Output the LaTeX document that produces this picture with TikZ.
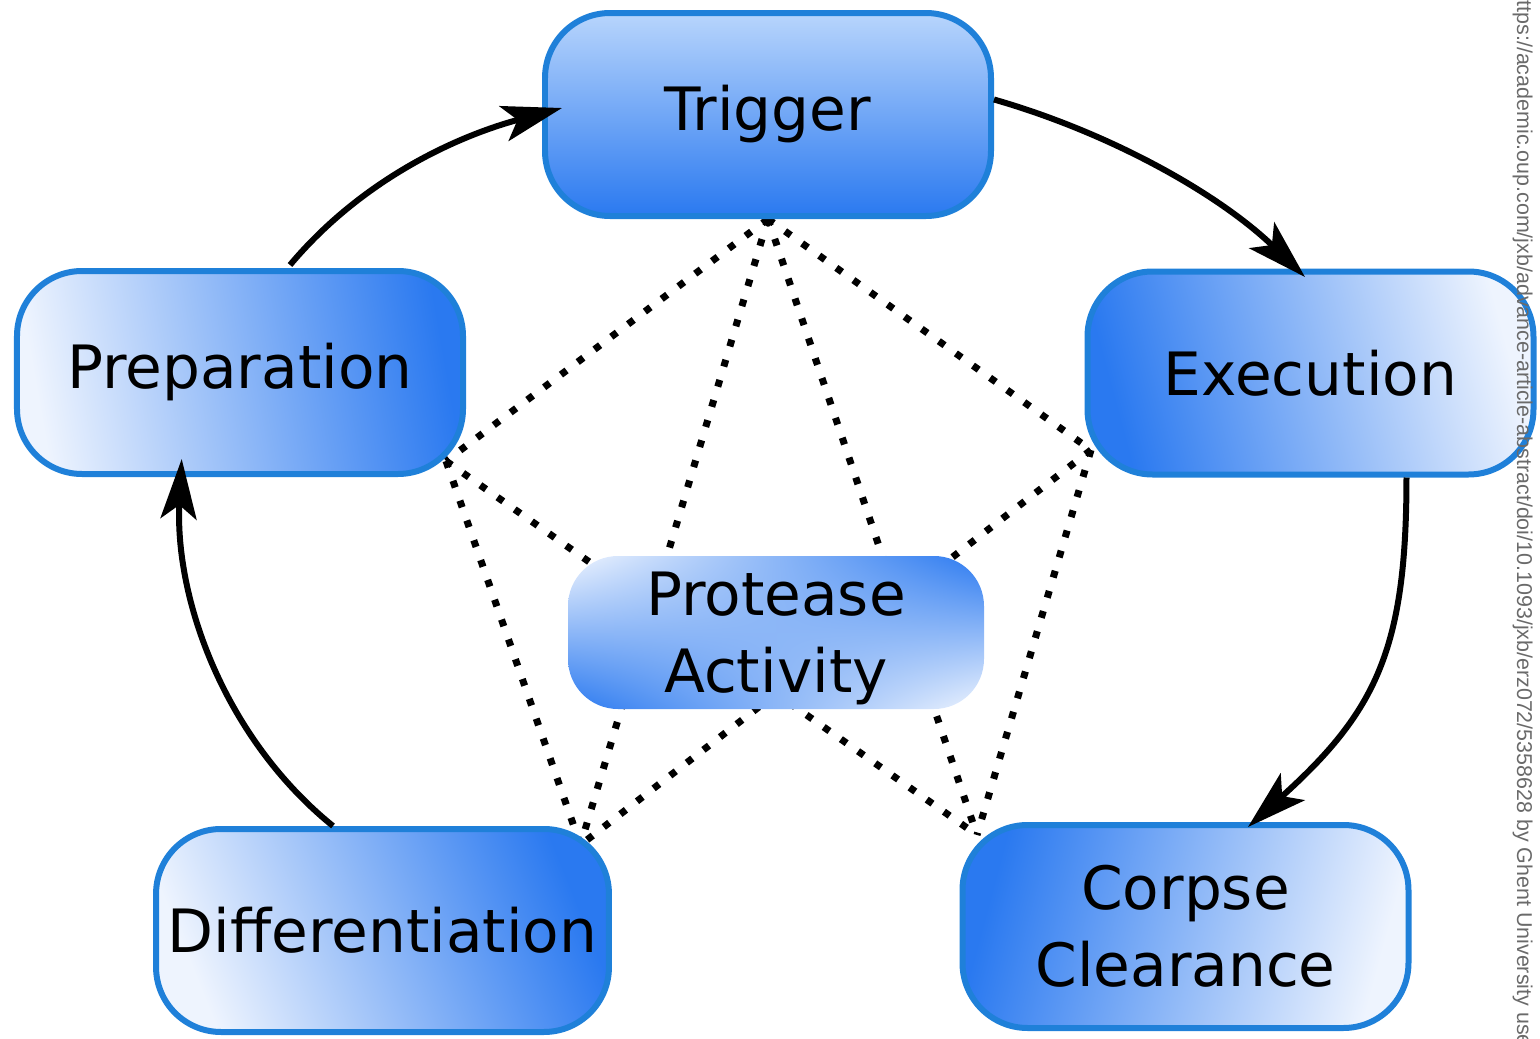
\documentclass[tikz,border=0pt]{standalone}
\usepackage{fontspec}
\setmainfont{DejaVu Sans}
\newfontfamily\urlfont{Liberation Sans}
\usetikzlibrary{arrows.meta,backgrounds,shadings}

\definecolor{boxline}{HTML}{1F80D9}
\definecolor{boxlight}{HTML}{EEF4FE}
\definecolor{boxblue}{HTML}{2A79F0}
\definecolor{trigtop}{HTML}{B8D5FC}
\definecolor{urlgray}{HTML}{6A6A6A}

\begin{document}
\begin{tikzpicture}[
    stage/.style={draw=boxline, line width=0.06cm, rounded corners=0.65cm,
        minimum width=4.46cm, minimum height=2.03cm, align=center,
        font=\fontsize{17}{22}\selectfont},
    cycle/.style={line width=0.06cm,
        -{Stealth[length=6mm,width=3.6mm,inset=1.4mm]}},
    link/.style={line width=0.07cm, dash pattern=on 0.07cm off 0.14cm}
]

    \useasboundingbox (0,0) rectangle (15.4,10.38);
    \clip (0,0) rectangle (15.4,10.38);

    % the five stages
    \node[stage, top color=trigtop, bottom color=boxblue] (trig)
        at (7.68,9.235) {Trigger};
    \node[stage, left color=boxlight, right color=boxblue, shading angle=100]
        (prep) at (2.40,6.655) {Preparation};
    \node[stage, left color=boxblue, right color=boxlight, shading angle=105]
        (exec) at (13.105,6.65) {Execution};
    \node[stage, left color=boxlight, right color=boxblue, shading angle=112]
        (diff) at (3.825,1.075) {Differentiation};
    \node[stage, left color=boxblue, right color=boxlight, shading angle=75]
        (corp) at (11.855,1.115) {Corpse\\Clearance};

    % centre box
    \node[shade, shading=bilinear interpolation, upper left=boxlight,
        upper right=boxblue, lower left=boxblue, lower right=boxlight,
        rounded corners=0.5cm, minimum width=4.16cm, minimum height=1.53cm,
        align=center, text depth=0pt, font=\fontsize{17}{22}\selectfont]
        (prot) at (7.76,4.055) {Protease\\Activity};

    % meeting points of the dotted links
    \coordinate (pT) at (trig.south);
    \coordinate (pP) at ([xshift=-2mm,yshift=1.6mm]prep.south east);
    \coordinate (pE) at ([xshift=0.65mm,yshift=2.75mm]exec.south west);
    \coordinate (pD) at ([xshift=-3.15mm,yshift=-1.9mm]diff.north east);
    \coordinate (pC) at ([xshift=1.75mm,yshift=-1.3mm]corp.north west);

    \begin{scope}[on background layer]
        \draw[link] (pT) -- (pP);
        \draw[link] (pT) -- (pD);
        \draw[link] (pT) -- (pC);
        \draw[link] (pT) -- (pE);
        \draw[link] (pP) -- (pC);
        \draw[link] (pP) -- (pD);
        \draw[link] (pE) -- (pD);
        \draw[link] (pE) -- (pC);
    \end{scope}

    % Connect the cycle
    \draw[cycle] ([xshift=5mm,yshift=0.3mm]prep.north) to[out=50, in=195, looseness=0.9]
        ([xshift=2mm,yshift=0.65mm]trig.west);
    \draw[cycle] ([yshift=1.5mm]trig.east) to[out=-16, in=136, looseness=0.86]
        ([xshift=-0.55mm,yshift=-0.85mm]exec.north);
    \draw[cycle] ([xshift=9.6mm]exec.south) to[out=-90, in=42, looseness=1.15]
        ([xshift=6.25mm,yshift=-0.5mm]corp.north);
    \draw[cycle] ([xshift=-4.95mm]diff.north) to[out=141, in=-93, looseness=0.9]
        ([xshift=-5.83mm,yshift=1.8mm]prep.south);

    \node[font=\urlfont\fontsize{6.1}{7}\selectfont, text=urlgray, rotate=-90,
        anchor=base west, inner sep=0pt] (url) at (15.17,10.5)
        {https://academic.oup.com/jxb/advance-article-abstract/doi/10.1093/jxb/erz072/5358628 by Ghent University use};

\end{tikzpicture}
\end{document}
